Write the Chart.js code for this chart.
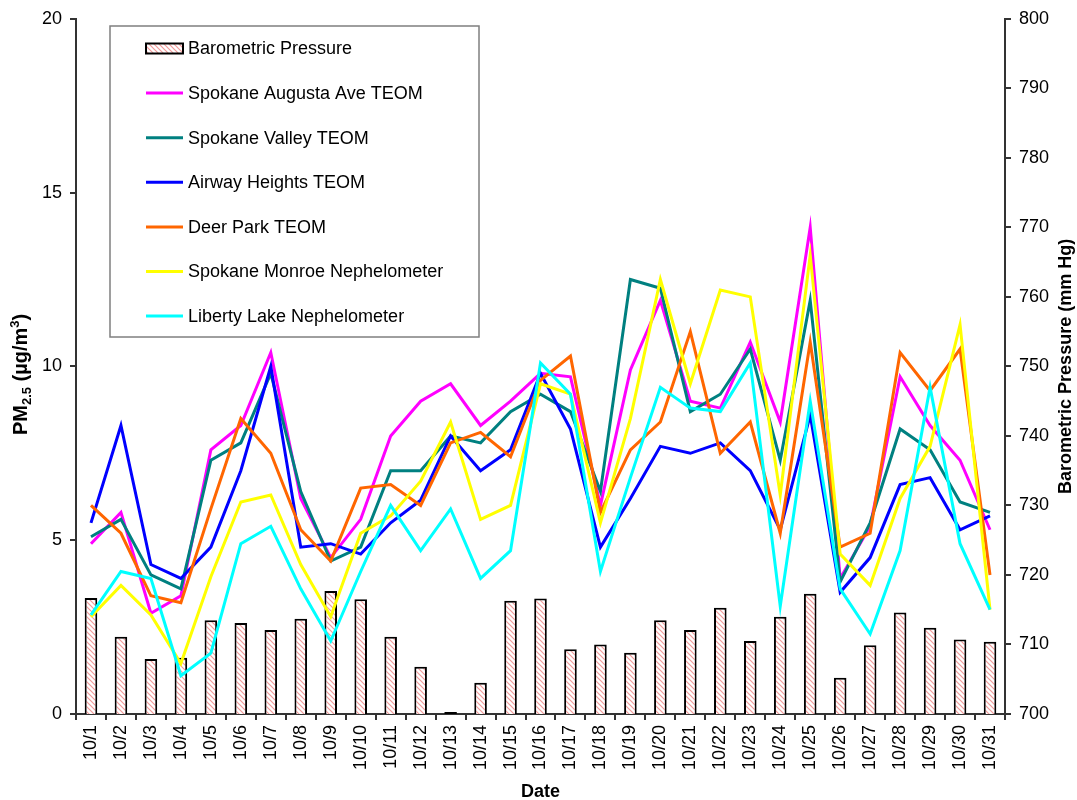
<!DOCTYPE html>
<html>
<head>
<meta charset="utf-8">
<title>PM2.5 and Barometric Pressure - October</title>
<script src="https://cdn.jsdelivr.net/npm/chart.js@4.4.1/dist/chart.umd.min.js"></script>
<style>
  body { margin: 0; background: #fff; }
  #wrap { width: 1077px; height: 800px; }
</style>
</head>
<body>
<div id="wrap"><canvas id="chart" width="1077" height="800"></canvas></div>
<script>
// -----------------------------
// DATA
// -----------------------------
const days = ["10/1","10/2","10/3","10/4","10/5","10/6","10/7","10/8","10/9","10/10",
  "10/11","10/12","10/13","10/14","10/15","10/16","10/17","10/18","10/19","10/20",
  "10/21","10/22","10/23","10/24","10/25","10/26","10/27","10/28","10/29","10/30","10/31"];

const pressure = [716.7, 711.1, 707.9, 708.1, 713.5, 713.1, 712.1, 713.7, 717.7, 716.5,
  711.1, 706.8, 700.3, 704.5, 716.3, 716.6, 709.3, 710.0, 708.8, 713.5,
  712.1, 715.3, 710.5, 714.0, 717.3, 705.2, 709.9, 714.6, 712.4, 710.7, 710.4];

const augusta = [4.9, 5.8, 2.9, 3.4, 7.6, 8.3, 10.4, 6.2, 4.5, 5.6,
  8.0, 9.0, 9.5, 8.3, 9.0, 9.8, 9.7, 6.0, 9.9, 11.9,
  9.0, 8.8, 10.7, 8.4, 14.0, 3.9, 5.4, 9.7, 8.3, 7.3, 5.3];

const valley = [5.1, 5.6, 4.0, 3.6, 7.3, 7.8, 9.8, 6.4, 4.4, 4.8,
  7.0, 7.0, 8.0, 7.8, 8.7, 9.2, 8.7, 6.4, 12.5, 12.25,
  8.7, 9.2, 10.5, 7.3, 11.9, 3.8, 5.5, 8.2, 7.6, 6.1, 5.8];

const airway = [5.5, 8.3, 4.3, 3.9, 4.8, 7.0, 10.0, 4.8, 4.9, 4.6,
  5.5, 6.15, 8.0, 7.0, 7.6, 9.8, 8.2, 4.8, 6.2, 7.7,
  7.5, 7.8, 7.0, 5.3, 8.6, 3.5, 4.5, 6.6, 6.8, 5.3, 5.7];

const deerPark = [6.0, 5.2, 3.4, 3.2, 5.9, 8.5, 7.5, 5.3, 4.4, 6.5,
  6.6, 6.0, 7.8, 8.1, 7.4, 9.6, 10.3, 5.8, 7.6, 8.4,
  11.0, 7.5, 8.4, 5.2, 10.7, 4.8, 5.2, 10.4, 9.3, 10.5, 4.0];

const monroe = [2.8, 3.7, 2.85, 1.45, 3.95, 6.1, 6.3, 4.3, 2.8, 5.2,
  5.7, 6.7, 8.4, 5.6, 6.0, 9.5, 9.2, 5.5, 8.5, 12.5,
  9.5, 12.2, 12.0, 6.3, 13.2, 4.6, 3.7, 6.2, 7.7, 11.2, 3.0];

const liberty = [2.85, 4.1, 3.9, 1.1, 1.75, 4.9, 5.4, 3.6, 2.1, 4.1,
  6.0, 4.7, 5.9, 3.9, 4.7, 10.1, 9.2, 4.1, 6.8, 9.4,
  8.8, 8.7, 10.1, 3.1, 9.0, 3.6, 2.3, 4.7, 9.4, 4.9, 3.0];

const pmTicks = [0, 5, 10, 15, 20];
const pressureTicks = [700, 710, 720, 730, 740, 750, 760, 770, 780, 790, 800];

// -----------------------------
// HATCH PATTERN FOR BARS
// -----------------------------
function makeHatch() {
  const c = document.createElement("canvas");
  c.width = 5; c.height = 5;
  const g = c.getContext("2d");
  g.fillStyle = "#ffffff";
  g.fillRect(0, 0, 5, 5);
  g.strokeStyle = "#f29a9a";
  g.lineWidth = 1.2;
  g.beginPath();
  g.moveTo(-1, -1); g.lineTo(6, 6);
  g.moveTo(-1, 4); g.lineTo(1, 6);
  g.moveTo(4, -1); g.lineTo(6, 1);
  g.stroke();
  return g.createPattern(c, "repeat");
}
const hatch = makeHatch();

function lineSet(label, data, color, order) {
  return {
    type: "line",
    label,
    data,
    borderColor: color,
    backgroundColor: color,
    borderWidth: 3,
    pointRadius: 0,
    tension: 0,
    yAxisID: "y",
    order
  };
}

// -----------------------------
// LEGEND + TITLES (drawn on canvas)
// -----------------------------
const legendBox = {
  id: "legendBox",
  afterDraw(chart) {
    const ctx = chart.ctx;
    ctx.save();
    ctx.strokeStyle = "#7f7f7f";
    ctx.lineWidth = 1.5;
    ctx.fillStyle = "#fff";
    ctx.fillRect(110, 26, 369, 311);
    ctx.strokeRect(110, 26, 369, 311);
    ctx.font = "18px 'Liberation Sans', Arial, sans-serif";
    ctx.textBaseline = "middle";
    chart.data.datasets.forEach((ds, i) => {
      const y = 48.5 + i * 44.6;
      if (ds.type === "bar") {
        ctx.fillStyle = hatch;
        ctx.fillRect(146, y - 5, 37, 10);
        ctx.strokeStyle = "#000";
        ctx.lineWidth = 2;
        ctx.strokeRect(146, y - 5, 37, 10);
      } else {
        ctx.strokeStyle = ds.borderColor;
        ctx.lineWidth = 3;
        ctx.beginPath();
        ctx.moveTo(146, y);
        ctx.lineTo(183, y);
        ctx.stroke();
      }
      ctx.fillStyle = "#000";
      ctx.fillText(ds.label, 188, y + 1);
    });
    ctx.restore();
  }
};

const axisTitles = {
  id: "axisTitles",
  afterDraw(chart) {
    const ctx = chart.ctx;
    const area = chart.chartArea;
    const mid = (area.top + area.bottom) / 2;
    const big = "bold 18px 'Liberation Sans', Arial, sans-serif";
    const leftBig = "bold 20px 'Liberation Sans', Arial, sans-serif";
    const small = "bold 13px 'Liberation Sans', Arial, sans-serif";
    ctx.save();
    ctx.fillStyle = "#000";
    ctx.textBaseline = "alphabetic";

    // x title
    ctx.font = big;
    ctx.textAlign = "center";
    ctx.fillText("Date", (area.left + area.right) / 2, 797);

    // left title with sub/superscript
    const parts = [
      { t: "PM", f: leftBig, dy: 0 },
      { t: "2.5", f: small, dy: 4 },
      { t: " (\u00b5g/m", f: leftBig, dy: 0 },
      { t: "3", f: small, dy: -8 },
      { t: ")", f: leftBig, dy: 0 }
    ];
    let total = 0;
    parts.forEach(p => { ctx.font = p.f; p.w = ctx.measureText(p.t).width; total += p.w; });
    ctx.translate(27, mid + 8);
    ctx.rotate(-Math.PI / 2);
    ctx.textAlign = "left";
    let x = -total / 2;
    parts.forEach(p => { ctx.font = p.f; ctx.fillText(p.t, x, p.dy); x += p.w; });
    ctx.restore();

    // right title
    ctx.save();
    ctx.fillStyle = "#000";
    ctx.font = big;
    ctx.textAlign = "center";
    ctx.textBaseline = "middle";
    ctx.translate(1066, mid);
    ctx.rotate(-Math.PI / 2);
    ctx.fillText("Barometric Pressure (mm Hg)", 0, 0);
    ctx.restore();
  }
};

// -----------------------------
// CHART
// -----------------------------
Chart.defaults.font.family = "'Liberation Sans', Arial, sans-serif";
Chart.defaults.font.size = 18;
Chart.defaults.color = "#000";

const axisBorder = { color: "#333", width: 2 };
const axisGrid = { drawOnChartArea: false, drawTicks: true, tickLength: 6, color: "#333", lineWidth: 2 };

new Chart(document.getElementById("chart"), {
  data: {
    labels: days,
    datasets: [
      {
        type: "bar",
        label: "Barometric Pressure",
        data: pressure,
        backgroundColor: hatch,
        borderColor: "#000",
        borderWidth: 2,
        borderSkipped: false,
        barPercentage: 0.42,
        categoryPercentage: 1,
        yAxisID: "y2",
        order: 10
      },
      lineSet("Spokane Augusta Ave TEOM", augusta, "#ff00ff", 6),
      lineSet("Spokane Valley TEOM", valley, "#008080", 5),
      lineSet("Airway Heights TEOM", airway, "#0000ff", 4),
      lineSet("Deer Park TEOM", deerPark, "#ff6600", 3),
      lineSet("Spokane Monroe Nephelometer", monroe, "#ffff00", 2),
      lineSet("Liberty Lake Nephelometer", liberty, "#00ffff", 1)
    ]
  },
  options: {
    responsive: false,
    animation: false,
    layout: { padding: { top: 18, left: 0, right: 0, bottom: 0 } },
    plugins: {
      legend: { display: false },
      tooltip: { enabled: false }
    },
    scales: {
      x: {
        type: "category",
        offset: true,
        grid: { ...axisGrid, offset: true },
        border: axisBorder,
        ticks: { autoSkip: false, minRotation: 90, maxRotation: 90, padding: 5 },
        afterFit(s) { s.height = 86; }
      },
      y: {
        position: "left",
        min: 0,
        max: 20,
        grid: axisGrid,
        border: axisBorder,
        ticks: { padding: 8 },
        afterBuildTicks(s) { s.ticks = pmTicks.map(v => ({ value: v })); },
        afterFit(s) { s.width = 76; }
      },
      y2: {
        position: "right",
        min: 700,
        max: 800,
        grid: axisGrid,
        border: axisBorder,
        ticks: { padding: 8 },
        afterBuildTicks(s) { s.ticks = pressureTicks.map(v => ({ value: v })); },
        afterFit(s) { s.width = 72; }
      }
    }
  },
  plugins: [legendBox, axisTitles]
});
</script>
</body>
</html>
